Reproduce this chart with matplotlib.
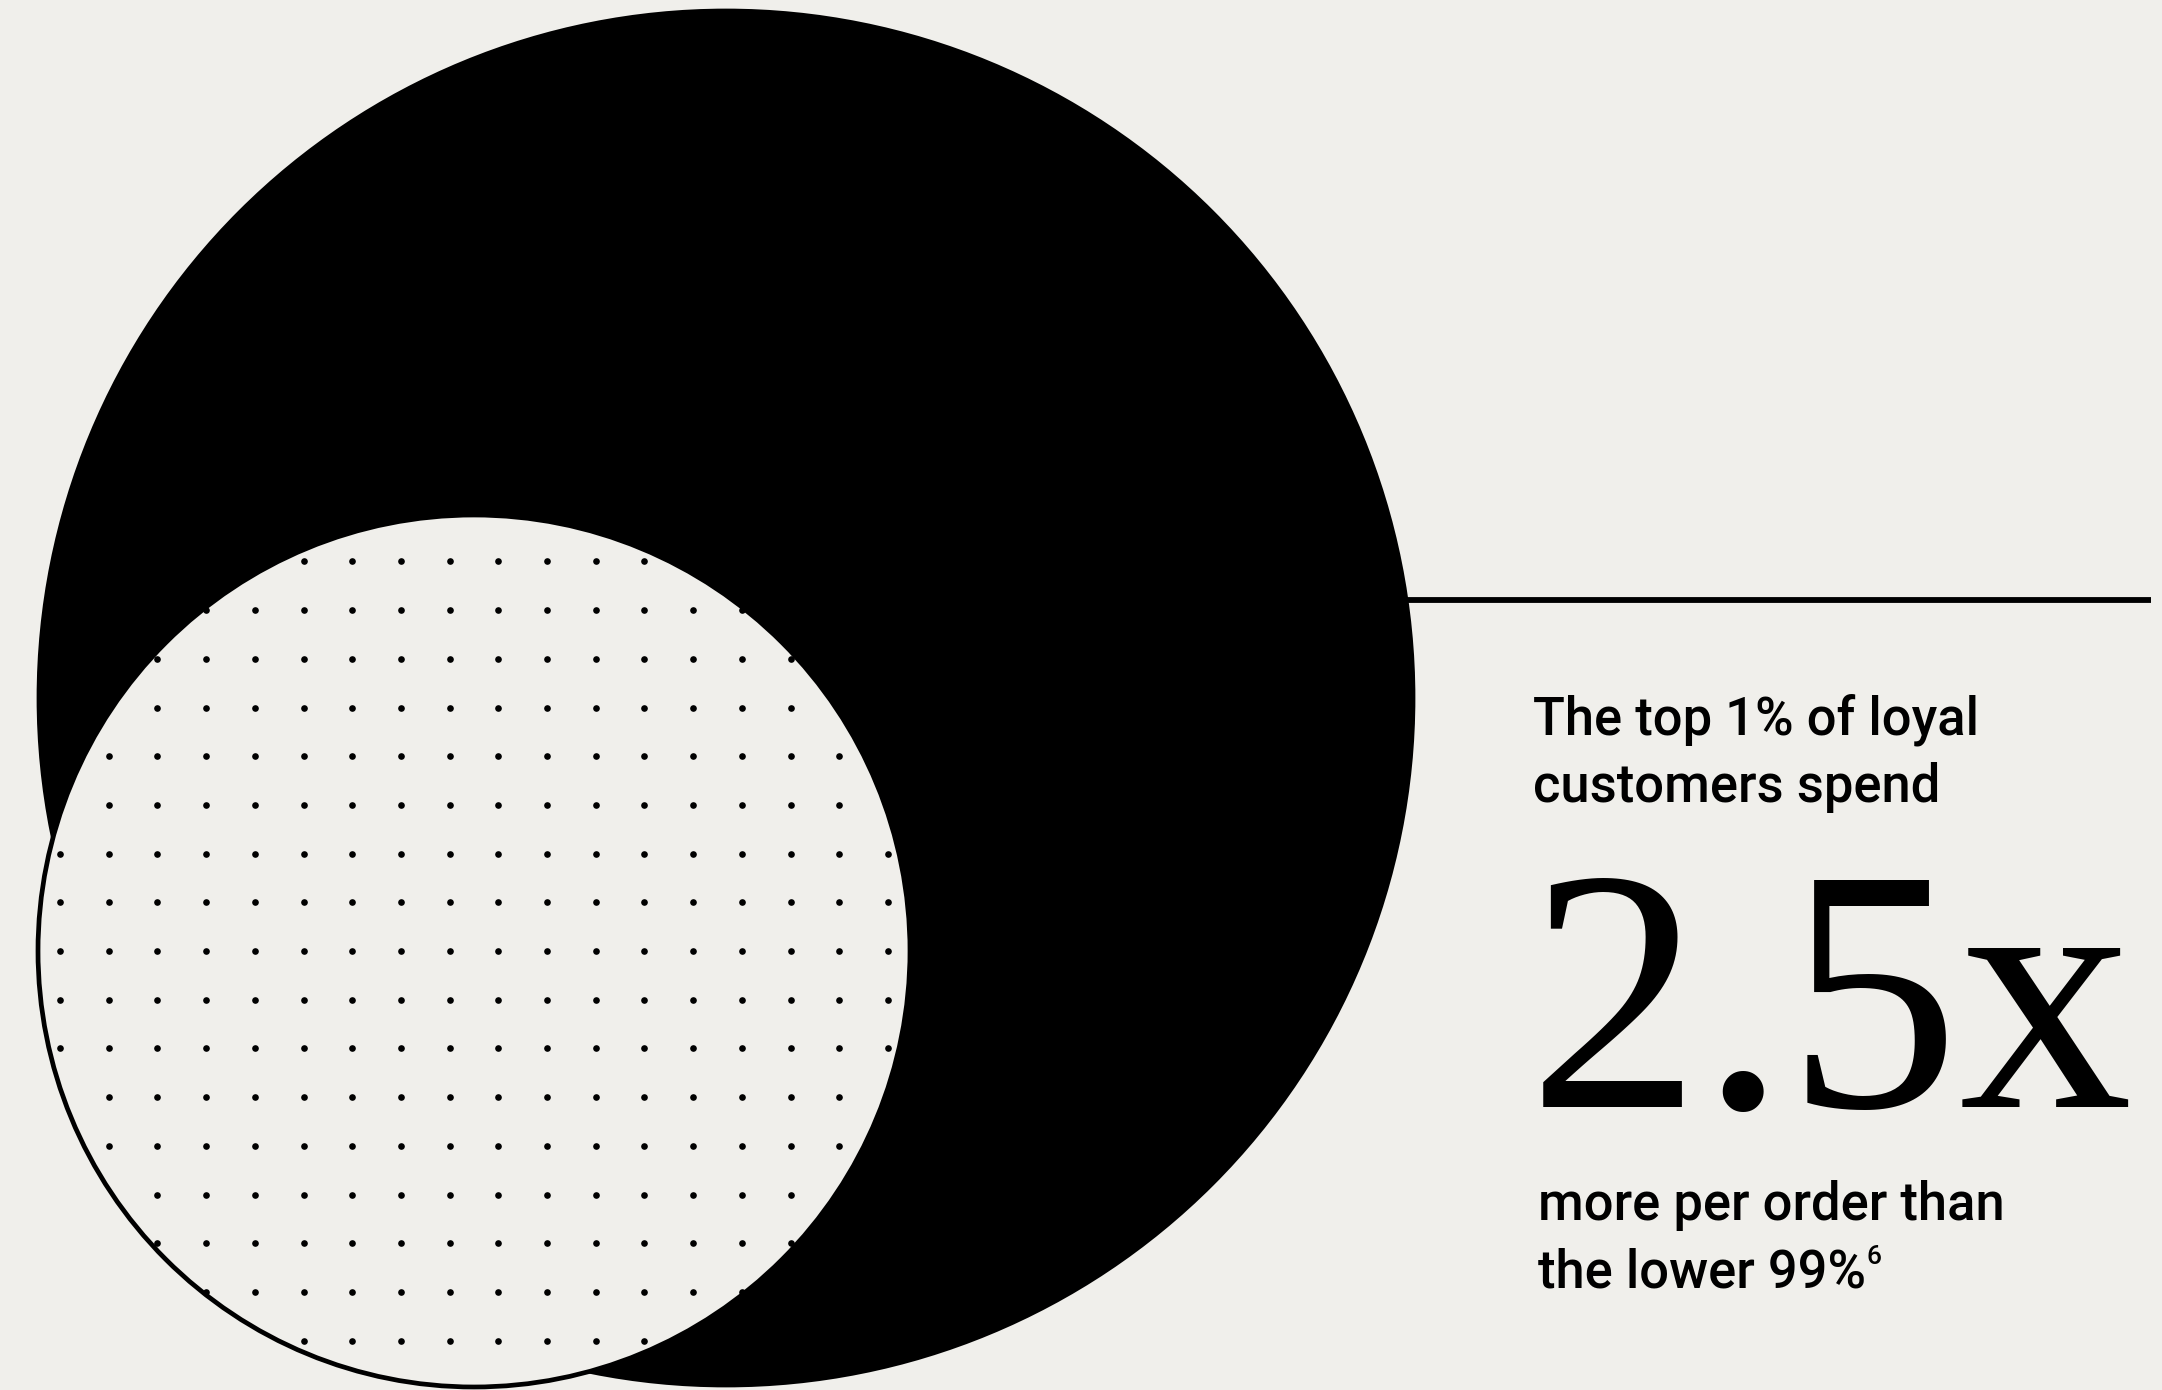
import numpy as np
import matplotlib
matplotlib.use("Agg")
import matplotlib.pyplot as plt
from matplotlib.patches import Circle

# values shown in the graphic
spend_ratio = 2.5              # top 1% spend vs the lower 99%
headline = "2.5x"
lead_lines = ["The top 1% of loyal", "customers spend"]
tail_lines = ["more per order than", "the lower 99%"]
footnote = "6"

BG = "#F0EFEB"
INK = "#000000"

W, H, DPI = 2162, 1390, 100
fig = plt.figure(figsize=(W / DPI, H / DPI), dpi=DPI, facecolor=BG)
ax = fig.add_axes([0, 0, 1, 1])
ax.set_xlim(0, W)
ax.set_ylim(H, 0)
ax.set_aspect("equal")
ax.axis("off")
ax.set_facecolor(BG)

# circle areas carry the ratio: big = small * sqrt(ratio)
r_small = 436
r_big = r_small * np.sqrt(spend_ratio)
big_c = (726, 698)
small_c = (474, 951)

ax.add_patch(Circle(big_c, r_big, facecolor=INK, edgecolor="none", zorder=1))
small = Circle(small_c, r_small, facecolor=BG, edgecolor="none", zorder=2)
ax.add_patch(small)

# dotted fill of the small circle
step = 48.7
xs = small_c[0] + step / 2 + step * np.arange(-10, 10)
ys = small_c[1] + step * np.arange(-10, 11)
gx, gy = np.meshgrid(xs, ys)
dots = ax.scatter(gx.ravel(), gy.ravel(), s=23, color=INK, linewidths=0, zorder=3)
dots.set_clip_path(small)

ax.add_patch(Circle(small_c, r_small, facecolor="none", edgecolor=INK,
                    linewidth=3.4, zorder=4))

# leader line from the big circle edge
line_y = 600
dy = line_y - big_c[1]
x0 = big_c[0] + np.sqrt(r_big ** 2 - dy ** 2)
ax.plot([x0 - 4, 2151], [line_y, line_y], color=INK, lw=4.2,
        solid_capstyle="butt", zorder=5)

sans = ["Roboto", "DejaVu Sans"]
body_size = 37.8
body_weight = "medium"
tx = 1533


def body(x, y, s, size=body_size):
    return ax.text(x, y, s, fontsize=size, family=sans, fontweight=body_weight,
                   va="baseline", ha="left", color=INK)


body(tx, 735, lead_lines[0])
body(tx, 802, lead_lines[1])

ax.text(tx - 5, 1107, headline, fontsize=249, family=["Liberation Serif"],
        va="baseline", ha="left", color=INK)

body(tx + 5, 1220, tail_lines[0])
last = body(tx + 5, 1288, tail_lines[1])

# superscript footnote marker right after the last line
fig.canvas.draw()
bb = last.get_window_extent(renderer=fig.canvas.get_renderer())
x_end = ax.transData.inverted().transform((bb.x1, bb.y0))[0]
body(x_end + 1, 1264, footnote, size=19)

fig.savefig("out.png", dpi=DPI, facecolor=BG)
